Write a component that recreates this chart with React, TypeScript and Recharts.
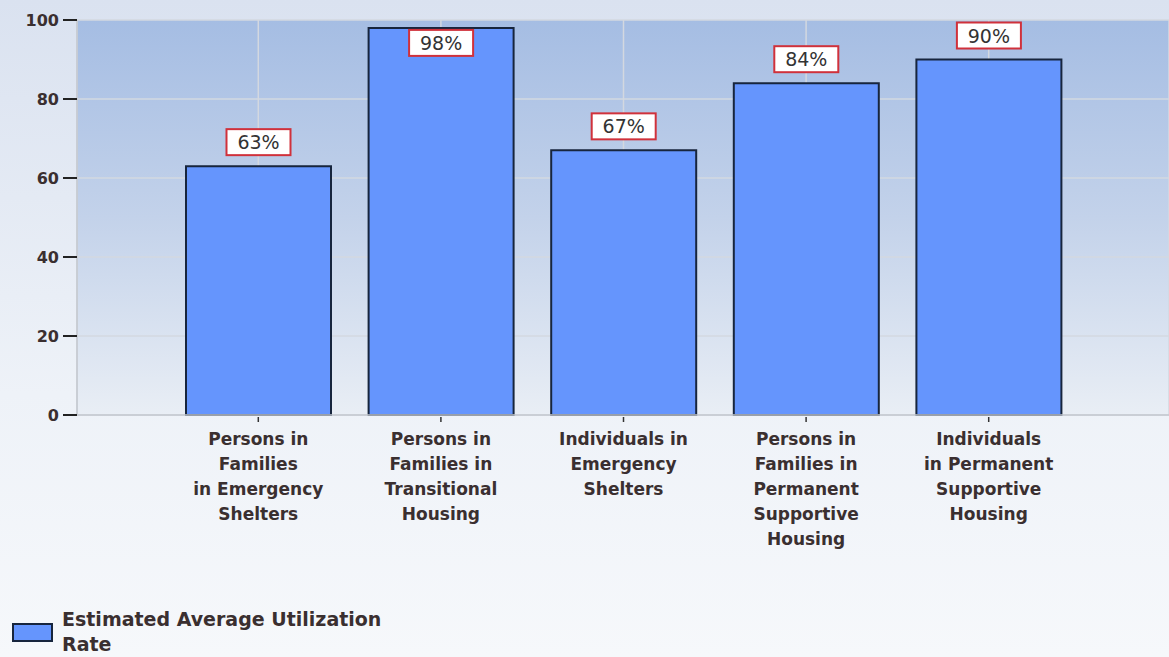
import React from "react";
import { BarChart, Bar, XAxis, YAxis, CartesianGrid, LabelList } from "recharts";

const categories = [
  "Persons in\nFamilies\nin Emergency\nShelters",
  "Persons in\nFamilies in\nTransitional\nHousing",
  "Individuals in\nEmergency\nShelters",
  "Persons in\nFamilies in\nPermanent\nSupportive\nHousing",
  "Individuals\nin Permanent\nSupportive\nHousing",
];
const utilization = [63, 98, 67, 84, 90];
const yTicks = [0, 20, 40, 60, 80, 100];
const seriesName = "Estimated Average Utilization Rate";

const data = categories.map((category, i) => ({ category, value: utilization[i] }));

const FONT = "'DejaVu Sans', sans-serif";
const TEXT = "#3a2f30";
const BAR_FILL = "#6595fd";
const BAR_STROKE = "#17253d";

const CategoryTick = ({ x, y, payload }: any) => {
  const lines = String(payload.value).split("\n");
  return (
    <g>
      <line x1={x} x2={x} y1={y - 6} y2={y - 1} stroke="#333" strokeWidth={1.5} />
      <text x={x} y={y} textAnchor="middle" fill={TEXT} fontFamily={FONT} fontSize={17} fontWeight="bold">
        {lines.map((l, i) => (
          <tspan key={i} x={x} dy={i === 0 ? 22 : 25}>{l}</tspan>
        ))}
      </text>
    </g>
  );
};

const PercentLabel = ({ x, y, width, value }: any) => {
  const w = 64;
  const h = 26;
  const top = y - 37 < 20 ? y + 2 : y - 37;
  const cx = x + width / 2;
  return (
    <g>
      <rect x={cx - w / 2} y={top} width={w} height={h} fill="#ffffff" stroke="#d0313b" strokeWidth={2} />
      <text x={cx} y={top + h / 2 + 7} textAnchor="middle" fill="#333" fontFamily={FONT} fontSize={19}>
        {value}%
      </text>
    </g>
  );
};

export default function App() {
  return (
    <div
      style={{
        position: "absolute",
        left: 0,
        top: 0,
        width: 1169,
        height: 657,
        background: "linear-gradient(to bottom, #dae2f0 0%, #eef2f8 60%, #f6f8fb 100%)",
        overflow: "hidden",
      }}
    >
      <BarChart
        width={1169}
        height={657}
        data={data}
        margin={{ top: 20, right: 0, bottom: 92, left: 0 }}
        barCategoryGap={0}
      >
        <defs>
          <linearGradient id="plotBg" x1="0" y1="0" x2="0" y2="1">
            <stop offset="0%" stopColor="#a5bde3" />
            <stop offset="50%" stopColor="#c3d2ea" />
            <stop offset="100%" stopColor="#e9eef5" />
          </linearGradient>
        </defs>
        <CartesianGrid fill="url(#plotBg)" stroke="#d3d8e0" strokeWidth={1.5} />
        <XAxis
          dataKey="category"
          interval={0}
          height={150}
          padding={{ left: 90, right: 89 }}
          axisLine={{ stroke: "#c4c8cf", strokeWidth: 1.5 }}
          tickLine={false}
          tick={<CategoryTick />}
        />
        <YAxis
          width={77}
          domain={[0, 100]}
          ticks={yTicks}
          interval={0}
          axisLine={{ stroke: "#c4c8cf", strokeWidth: 1.5 }}
          tickLine={{ stroke: "#222", strokeWidth: 2 }}
          tickSize={14}
          tickMargin={4}
          tick={{ fill: TEXT, fontFamily: FONT, fontSize: 16, fontWeight: "bold" }}
        />
        <Bar
          dataKey="value"
          name={seriesName}
          fill={BAR_FILL}
          stroke={BAR_STROKE}
          strokeWidth={2}
          barSize={145}
          isAnimationActive={false}
        >
          <LabelList dataKey="value" content={<PercentLabel />} />
        </Bar>
      </BarChart>
      <div style={{ position: "absolute", left: 12, top: 623, width: 37, height: 15, background: BAR_FILL, border: `2px solid ${BAR_STROKE}` }} />
      <div
        style={{
          position: "absolute",
          left: 62,
          top: 607,
          width: 340,
          fontFamily: FONT,
          fontSize: 19,
          fontWeight: "bold",
          lineHeight: "25px",
          color: TEXT,
        }}
      >
        {seriesName}
      </div>
    </div>
  );
}
